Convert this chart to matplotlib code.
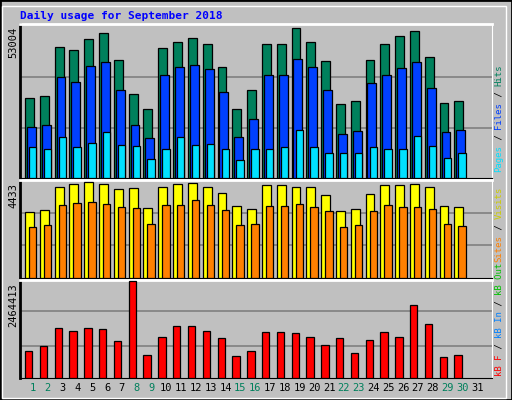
import matplotlib
matplotlib.use("Agg")
import matplotlib.pyplot as plt
from matplotlib.patches import Rectangle

days = list(range(1, 31))
hits = [33340, 34040, 54400, 52990, 57560, 60020, 48790, 34740, 28420, 54050, 56510, 57910, 55450, 45970, 28420, 36500, 55450, 55450, 62120, 56510, 48440, 30520, 31920, 48790, 55450, 58970, 61070, 50190, 30880, 31920]
files = [21060, 21770, 41780, 39670, 46340, 48090, 36500, 22120, 16510, 42480, 45990, 46690, 45290, 35440, 16860, 24580, 42830, 42830, 49150, 45990, 36500, 18260, 19660, 39320, 42830, 45640, 48090, 37200, 18960, 20010]
pages = [12640, 11930, 16850, 12990, 14390, 18950, 13690, 13340, 7730, 11930, 16850, 13690, 14040, 11930, 7370, 11930, 11930, 12640, 20000, 12640, 10530, 10180, 10180, 12640, 11930, 11930, 17200, 13340, 8430, 10180]

visits = [2550, 2640, 3500, 3640, 3700, 3640, 3440, 3470, 2700, 3520, 3610, 3670, 3520, 3260, 2780, 2670, 3580, 3580, 3500, 3520, 3200, 2580, 2670, 3230, 3580, 3580, 3640, 3500, 2780, 2730]
sites = [1980, 2040, 2800, 2890, 2940, 2860, 2740, 2710, 2070, 2800, 2800, 3000, 2800, 2620, 2040, 2100, 2770, 2770, 2860, 2740, 2600, 1980, 2040, 2570, 2800, 2740, 2740, 2650, 2070, 2010]

kbytes = [680000, 804000, 1275000, 1200000, 1275000, 1250000, 928000, 2464413, 582000, 1052000, 1325000, 1325000, 1200000, 1027000, 557000, 680000, 1176000, 1176000, 1151000, 1052000, 829000, 1027000, 631000, 978000, 1176000, 1052000, 1852000, 1374000, 532000, 582000]

# panel tops are a few px above the largest bar
max1 = max(hits) * 151 / 147
max2 = max(visits) * 96 / 94
max3 = max(kbytes) * 92 / 91

day_colors = ["#00805c" if d in (1, 2, 8, 9, 15, 16, 22, 23, 29, 30) else "black" for d in range(1, 32)]

W, H = 512, 400
fig = plt.figure(figsize=(W / 100, H / 100), dpi=100)
fig.patch.set_facecolor("#c0c0c0")
fig.add_artist(Rectangle((0, 0), 1, 1, transform=fig.transFigure, fill=False, edgecolor="black", lw=2))
fig.add_artist(Rectangle((2 / W, 2 / H), (W - 8) / W, (H - 8) / H, transform=fig.transFigure, fill=False, edgecolor="white", lw=1))
mono = "DejaVu Sans Mono"


def make_ax(top, bottom):
    ax = fig.add_axes([20 / W, 1 - bottom / H, 472 / W, (bottom - top) / H])
    ax.set_facecolor("#c0c0c0")
    ax.set_xlim(0.12, 32.0)
    ax.set_xticks([])
    ax.set_yticks([])
    for s in ax.spines.values():
        s.set_color("black")
    ax.spines["top"].set_color("white")
    ax.spines["right"].set_color("white")
    ax.spines["top"].set_linewidth(2)
    ax.spines["left"].set_linewidth(2)
    return ax


def bars(ax, offs, w, vals, color):
    ax.bar([d + offs for d in days], vals, width=w, align="edge", color=color, edgecolor="black", linewidth=0.9, zorder=3)


ax1 = make_ax(24, 178)
ax1.set_ylim(0, max1)
for g in (max1 * 49 / 151, max1 * 99 / 151):
    ax1.axhline(g, color="#808080", lw=1.2, zorder=1)
bars(ax1, -0.54, 0.6, hits, "#00805c")
bars(ax1, -0.41, 0.6, files, "#0040ff")
bars(ax1, -0.27, 0.5, pages, "#00e0ff")

ax2 = make_ax(180, 278)
ax2.set_ylim(0, max2)
for g in (max2 / 3, max2 * 2 / 3):
    ax2.axhline(g, color="#808080", lw=1.2, zorder=1)
bars(ax2, -0.54, 0.6, visits, "#ffff00")
bars(ax2, -0.27, 0.5, sites, "#ff8000")

ax3 = make_ax(280, 378)
ax3.set_ylim(0, max3)
for g in (max3 * 30 / 92, max3 * 63 / 92):
    ax3.axhline(g, color="#808080", lw=1.2, zorder=1)
bars(ax3, -0.54, 0.5, kbytes, "#ff0000")

fig.text(20 / W, 1 - 16 / H, "Daily usage for September 2018", color="#0000ff", family=mono, fontsize=8, fontweight="bold", va="center")

for txt, y in (("53004", 27), ("4433", 183), ("2464413", 283)):
    fig.text(8 / W, 1 - y / H, txt, rotation=90, family=mono, fontsize=7.5, va="top", ha="left")

for i in range(31):
    ax3.text(i + 1, -0.1, str(i + 1), transform=ax3.get_xaxis_transform(), ha="center", va="center", family=mono, fontsize=7.5, color=day_colors[i])


def side_label(parts, bottom):
    y = bottom
    for txt, col in parts:
        fig.text(499 / W, 1 - y / H, txt, rotation=90, family=mono, fontsize=6.5, color=col, ha="center", va="bottom")
        y -= len(txt) * 5.4


side_label([("Pages", "#00e0ff"), (" / ", "black"), ("Files", "#0040ff"), (" / ", "black"), ("Hits", "#00805c")], 172)
side_label([("Sites", "#ff8000"), (" / ", "black"), ("Visits", "#cccc00")], 262)
side_label([("kB F", "#ff0000"), (" / ", "black"), ("kB In", "#0080ff"), (" / ", "black"), ("kB Out", "#00c000")], 376)

fig.savefig("out.png", dpi=100, facecolor=fig.get_facecolor())
